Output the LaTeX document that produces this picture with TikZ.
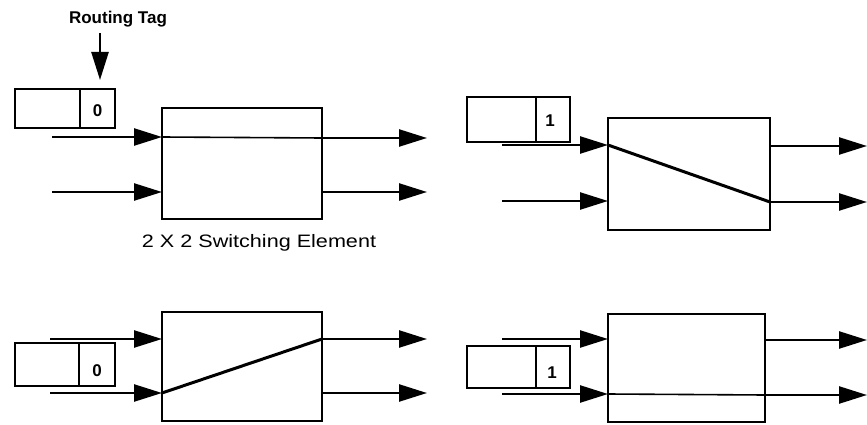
\documentclass[tikz,border=0pt]{standalone}
\usepackage{fontspec}
\usepackage{graphicx}
\setmainfont{Liberation Sans}
\usetikzlibrary{arrows.meta}
\begin{document}
\begin{tikzpicture}[x=1pt,y=-1pt,
  box/.style={draw, line width=2.4pt, inner sep=0pt, outer sep=0pt, anchor=north west},
  arr/.style={line width=2.4pt, -{Triangle[length=28pt,width=17pt]}},
  thru/.style={line width=1.6pt},
  cross/.style={line width=3pt},
  digit/.style={font=\fontsize{17}{17}\selectfont\bfseries, inner sep=0pt},
  lab/.style={font=\fontsize{18}{18}\selectfont, inner sep=0pt},
  tagtitle/.style={font=\fontsize{17}{17}\selectfont\bfseries, inner sep=0pt}]
\useasboundingbox (0,0) rectangle (867,425);

% ---------- Panel 1 (top left) ----------
\node[box, minimum width=160pt, minimum height=111pt] (sw1) at (162,108) {};
\node[box, minimum width=65pt, minimum height=39pt] (t1a) at (15,89) {};
\node[box, minimum width=35pt, minimum height=39pt] (t1b) at (t1a.north east) {};
\node[digit] (d1) at ([yshift=-2pt]t1b.center) {0};
\node[tagtitle] (rt) at (118,19) {Routing Tag};
\coordinate (rta) at (100,33);
\coordinate (rtb) at (100,80);
\draw[arr] (rta) -- (rtb);
\coordinate (i1a) at (52,137);
\coordinate (i1b) at (52,192);
\coordinate (o1a) at (427,138);
\coordinate (o1b) at (427,192);
\draw[arr] (i1a) -- (i1a -| sw1.west);
\draw[arr] (i1b) -- (i1b -| sw1.west);
\draw[arr] (o1a -| sw1.east) -- (o1a);
\draw[arr] (o1b -| sw1.east) -- (o1b);
\draw[thru] (i1a -| sw1.west) -- (o1a -| sw1.east);
\node[lab] (cap) at (259,243) {\scalebox{1.2}[1]{2 X 2 Switching Element}};

% ---------- Panel 2 (top right) ----------
\node[box, minimum width=162pt, minimum height=112pt] (sw2) at (608,118) {};
\node[box, minimum width=69pt, minimum height=45pt] (t2a) at (467,97) {};
\node[box, minimum width=34pt, minimum height=45pt] (t2b) at (t2a.north east) {};
\node[digit] (d2) at ([xshift=-3pt,yshift=-1pt]t2b.center) {1};
\coordinate (i2a) at (502,145);
\coordinate (i2b) at (502,201);
\coordinate (o2a) at (867,146);
\coordinate (o2b) at (867,202);
\draw[arr] (i2a) -- (i2a -| sw2.west);
\draw[arr] (i2b) -- (i2b -| sw2.west);
\draw[arr] (o2a -| sw2.east) -- (o2a);
\draw[arr] (o2b -| sw2.east) -- (o2b);
\draw[cross] (i2a -| sw2.west) -- (o2b -| sw2.east);

% ---------- Panel 3 (bottom left) ----------
\node[box, minimum width=160pt, minimum height=109pt] (sw3) at (162,312) {};
\node[box, minimum width=64pt, minimum height=43pt] (t3a) at (15,343) {};
\node[box, minimum width=36pt, minimum height=43pt] (t3b) at (t3a.north east) {};
\node[digit] (d3) at ([yshift=-6pt]t3b.center) {0};
\coordinate (i3a) at (50,339);
\coordinate (i3b) at (50,393);
\coordinate (o3a) at (427,339);
\coordinate (o3b) at (427,393);
\draw[arr] (i3a) -- (i3a -| sw3.west);
\draw[arr] (i3b) -- (i3b -| sw3.west);
\draw[arr] (o3a -| sw3.east) -- (o3a);
\draw[arr] (o3b -| sw3.east) -- (o3b);
\draw[cross] (i3b -| sw3.west) -- (o3a -| sw3.east);

% ---------- Panel 4 (bottom right) ----------
\node[box, minimum width=157pt, minimum height=108pt] (sw4) at (608,314) {};
\node[box, minimum width=69pt, minimum height=42pt] (t4a) at (467,346) {};
\node[box, minimum width=34pt, minimum height=42pt] (t4b) at (t4a.north east) {};
\node[digit] (d4) at ([xshift=-1pt,yshift=-6pt]t4b.center) {1};
\coordinate (i4a) at (502,339);
\coordinate (i4b) at (502,394);
\coordinate (o4a) at (867,340);
\coordinate (o4b) at (867,395);
\draw[arr] (i4a) -- (i4a -| sw4.west);
\draw[arr] (i4b) -- (i4b -| sw4.west);
\draw[arr] (o4a -| sw4.east) -- (o4a);
\draw[arr] (o4b -| sw4.east) -- (o4b);
\draw[thru] (i4b -| sw4.west) -- (o4b -| sw4.east);
\end{tikzpicture}
\end{document}
